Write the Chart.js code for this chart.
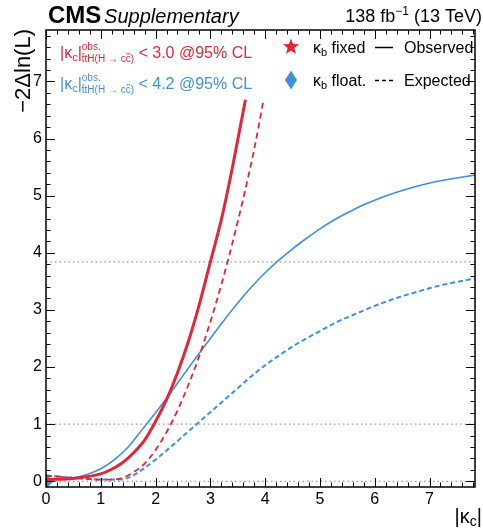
<!DOCTYPE html>
<html>
<head>
<meta charset="utf-8">
<script src="https://cdn.jsdelivr.net/npm/chart.js@4"></script>
<style>
  html, body { margin: 0; padding: 0; background: #fff; }
  canvas { display: block; }
</style>
</head>
<body>
<canvas id="scan" width="483" height="531"></canvas>
<script>
// likelihood scan values, -2 Delta ln L versus |kappa_c|
const fixedObsK   = [0, 0.5, 1.0, 1.2, 1.4, 1.6, 1.8, 2.0, 2.2, 2.4, 2.6, 2.8, 3.0, 3.2, 3.4, 3.64];
const fixedObsNll = [0.03, 0.05, 0.13, 0.21, 0.33, 0.5, 0.72, 1.05, 1.43, 1.9, 2.45, 3.1, 3.84, 4.58, 5.48, 6.68];

const fixedExpK   = [0, 0.5, 1.0, 1.2, 1.4, 1.6, 1.8, 2.0, 2.2, 2.4, 2.6, 2.8, 3.0, 3.2, 3.4, 3.6, 3.8, 3.97];
const fixedExpNll = [0.1, 0.06, 0.03, 0.03, 0.06, 0.16, 0.31, 0.55, 0.86, 1.24, 1.69, 2.2, 2.79, 3.44, 4.16, 4.95, 5.81, 6.68];

const floatObsK   = [0, 0.25, 0.5, 0.75, 1.0, 1.25, 1.5, 1.75, 2.0, 2.25, 2.5, 2.75, 3.0, 3.25, 3.5, 3.75, 4.0, 4.25, 4.5, 4.75, 5.0, 5.25, 5.5, 5.75, 6.0, 6.25, 6.5, 6.75, 7.0, 7.25, 7.5, 7.83];
const floatObsNll = [0.03, 0.04, 0.06, 0.12, 0.22, 0.38, 0.6, 0.9, 1.2, 1.52, 1.85, 2.18, 2.5, 2.82, 3.12, 3.4, 3.65, 3.87, 4.07, 4.25, 4.42, 4.57, 4.7, 4.82, 4.92, 5.01, 5.09, 5.16, 5.22, 5.27, 5.31, 5.36];

const floatExpK   = [0, 0.5, 1.0, 1.25, 1.5, 1.75, 2.0, 2.25, 2.5, 2.75, 3.0, 3.25, 3.5, 3.75, 4.0, 4.25, 4.5, 4.75, 5.0, 5.25, 5.5, 5.75, 6.0, 6.25, 6.5, 6.75, 7.0, 7.25, 7.5, 7.83];
const floatExpNll = [0.1, 0.06, 0.03, 0.03, 0.06, 0.2, 0.38, 0.58, 0.79, 1.0, 1.21, 1.42, 1.63, 1.84, 2.03, 2.2, 2.36, 2.5, 2.63, 2.76, 2.87, 2.97, 3.07, 3.16, 3.24, 3.31, 3.38, 3.44, 3.49, 3.55];

// 68% / 95% reference levels (and zero)
const refLevels = [0, 1, 3.84];

const xTicks = [0, 1, 2, 3, 4, 5, 6, 7];
const yTicks = [0, 1, 2, 3, 4, 5, 6, 7];
const X_MIN = 0, X_MAX = 7.83;
const Y_MIN = -0.1, Y_MAX = 7.9;

const RED = "#e42536";
const BLUE = "#3f90da";
const FONT = "'Liberation Sans', Arial, Helvetica, sans-serif";

const pts = (xs, ys) => xs.map((x, i) => ({ x, y: ys[i] }));

const curve = (xs, ys, color, width, dash) => ({
    data: pts(xs, ys),
    showLine: true,
    borderColor: color,
    borderWidth: width,
    borderDash: dash,
    pointRadius: 0,
    cubicInterpolationMode: "monotone",
    clip: 0
});

const datasets = [
    curve(fixedObsK, fixedObsNll, RED, 3, []),
    curve(fixedExpK, fixedExpNll, RED, 1.8, [6, 4]),
    curve(floatObsK, floatObsNll, BLUE, 1.6, []),
    curve(floatExpK, floatExpNll, BLUE, 2, [5, 3]),
    {
        // best fit point
        data: [{ x: 0, y: 0 }],
        pointStyle: "rectRot",
        pointRadius: 7,
        backgroundColor: BLUE,
        borderColor: BLUE,
        clip: 0
    }
];

refLevels.forEach(v => {
    datasets.push({
        data: [{ x: X_MIN, y: v }, { x: X_MAX, y: v }],
        showLine: true,
        borderColor: "#9a9a9a",
        borderWidth: 1.2,
        borderDash: [1.5, 3],
        pointRadius: 0
    });
});

// rich text: runs of {t, size, dy} or stacked {sup, sub, size}
function drawRuns(ctx, x, y, runs, color) {
    ctx.fillStyle = color;
    ctx.strokeStyle = color;
    ctx.textAlign = "left";
    ctx.textBaseline = "alphabetic";
    runs.forEach(r => {
        if (r.sup !== undefined) {
            ctx.font = `${r.size}px ${FONT}`;
            const w1 = ctx.measureText(r.sup).width;
            const w2 = ctx.measureText(r.sub).width;
            ctx.fillText(r.sup, x, y + r.supDy);
            ctx.fillText(r.sub, x, y + r.subDy);
            (r.bars || []).forEach(i => {
                const bx = x + ctx.measureText(r.sub.slice(0, i)).width;
                const bw = ctx.measureText(r.sub[i]).width;
                ctx.lineWidth = 0.9;
                ctx.beginPath();
                ctx.moveTo(bx + 0.5, y + r.subDy - r.size * 0.82);
                ctx.lineTo(bx + bw - 0.3, y + r.subDy - r.size * 0.82);
                ctx.stroke();
            });
            x += Math.max(w1, w2);
        } else {
            ctx.font = `${r.italic ? "italic " : ""}${r.bold ? "bold " : ""}${r.size}px ${FONT}`;
            ctx.fillText(r.t, x, y + (r.dy || 0));
            x += ctx.measureText(r.t).width;
        }
    });
    return x;
}

function runsWidth(ctx, runs) {
    let w = 0;
    runs.forEach(r => {
        ctx.font = `${r.size}px ${FONT}`;
        w += ctx.measureText(r.t).width;
    });
    return w;
}

const limitLabel = (value) => [
    { t: "|κ", size: 16 },
    { t: "c", size: 11, dy: 3 },
    { t: "|", size: 16 },
    { sup: "obs.", sub: "ttH(H → cc)", size: 10, supDy: -8, subDy: 4, bars: [0, 9] },
    { t: ` < ${value} @95% CL`, size: 16 }
];

function star(ctx, cx, cy, r) {
    ctx.beginPath();
    for (let i = 0; i < 10; i++) {
        const rad = i % 2 === 0 ? r : r * 0.42;
        const a = -Math.PI / 2 + i * Math.PI / 5;
        ctx.lineTo(cx + rad * Math.cos(a), cy + rad * Math.sin(a));
    }
    ctx.closePath();
    ctx.fill();
}

function diamond(ctx, cx, cy, hw, hh) {
    ctx.beginPath();
    ctx.moveTo(cx, cy - hh);
    ctx.lineTo(cx + hw, cy);
    ctx.lineTo(cx, cy + hh);
    ctx.lineTo(cx - hw, cy);
    ctx.closePath();
    ctx.fill();
}

const decorations = {
    id: "decorations",
    afterDatasetsDraw(chart) {
        const ctx = chart.ctx;
        const a = chart.chartArea;
        const xs = chart.scales.x, ys = chart.scales.y;
        ctx.save();

        // inward ticks on all four sides
        ctx.strokeStyle = "#000";
        ctx.lineWidth = 1;
        ctx.beginPath();
        for (let i = 0; i * 0.2 <= X_MAX + 1e-6; i++) {
            const px = Math.round(xs.getPixelForValue(i * 0.2)) + 0.5;
            const len = i % 5 === 0 ? 9 : 4.5;
            ctx.moveTo(px, a.bottom); ctx.lineTo(px, a.bottom - len);
            ctx.moveTo(px, a.top); ctx.lineTo(px, a.top + len);
        }
        for (let i = 0; i * 0.2 <= Y_MAX + 1e-6; i++) {
            const py = Math.round(ys.getPixelForValue(i * 0.2)) + 0.5;
            const len = i % 5 === 0 ? 9 : 4.5;
            ctx.moveTo(a.left, py); ctx.lineTo(a.left + len, py);
            ctx.moveTo(a.right, py); ctx.lineTo(a.right - len, py);
        }
        ctx.stroke();

        // frame
        ctx.lineWidth = 1.5;
        ctx.strokeRect(a.left, a.top, a.right - a.left, a.bottom - a.top);

        // header
        drawRuns(ctx, 48, 23, [
            { t: "CMS", size: 24, bold: true },
            { t: " ", size: 10 },
            { t: "Supplementary", size: 20, italic: true }
        ], "#000");
        const lumi = [
            { t: "138 fb", size: 18 },
            { t: "−1", size: 12, dy: -7 },
            { t: " (13 TeV)", size: 18 }
        ];
        drawRuns(ctx, 482 - runsWidth(ctx, lumi), 22, lumi, "#000");

        // axis titles
        ctx.save();
        ctx.translate(30, 29);
        ctx.rotate(-Math.PI / 2);
        ctx.font = `22px ${FONT}`;
        ctx.fillStyle = "#000";
        ctx.textAlign = "right";
        ctx.textBaseline = "alphabetic";
        ctx.fillText("−2Δln(L)", 0, 0);
        ctx.restore();

        const xTitle = [
            { t: "|κ", size: 20 },
            { t: "c", size: 14, dy: 3 },
            { t: "|", size: 20 }
        ];
        drawRuns(ctx, 482 - runsWidth(ctx, xTitle), 523, xTitle, "#000");

        // limit labels
        drawRuns(ctx, 60, 58, limitLabel("3.0"), RED);
        drawRuns(ctx, 60, 89, limitLabel("4.2"), BLUE);

        // legend
        ctx.fillStyle = RED;
        star(ctx, 291, 47, 8.5);
        ctx.fillStyle = BLUE;
        diamond(ctx, 291, 80, 6, 9.5);

        drawRuns(ctx, 313, 53, [
            { t: "κ", size: 16 }, { t: "b", size: 11, dy: 3 }, { t: " fixed", size: 16 }
        ], "#000");
        drawRuns(ctx, 313, 86, [
            { t: "κ", size: 16 }, { t: "b", size: 11, dy: 3 }, { t: " float.", size: 16 }
        ], "#000");

        ctx.strokeStyle = "#000";
        ctx.lineWidth = 1.5;
        ctx.setLineDash([]);
        ctx.beginPath(); ctx.moveTo(375, 47.5); ctx.lineTo(393, 47.5); ctx.stroke();
        ctx.setLineDash([4, 3]);
        ctx.beginPath(); ctx.moveTo(375, 80.5); ctx.lineTo(395, 80.5); ctx.stroke();
        ctx.setLineDash([]);

        ctx.font = `16px ${FONT}`;
        ctx.fillStyle = "#000";
        ctx.fillText("Observed", 404, 53);
        ctx.fillText("Expected", 404, 86);

        ctx.restore();
    }
};

new Chart(document.getElementById("scan"), {
    type: "scatter",
    data: { datasets },
    options: {
        responsive: false,
        animation: false,
        layout: { padding: { top: 30, right: 2, left: 0, bottom: 0 } },
        plugins: { legend: { display: false }, tooltip: { enabled: false } },
        scales: {
            x: {
                type: "linear",
                min: X_MIN,
                max: X_MAX,
                afterBuildTicks: (s) => { s.ticks = xTicks.map(v => ({ value: v })); },
                afterFit: (s) => { s.height = 44; },
                grid: { display: false, drawTicks: false },
                border: { display: false },
                ticks: { color: "#000", padding: 3, font: { family: FONT, size: 16 } }
            },
            y: {
                type: "linear",
                min: Y_MIN,
                max: Y_MAX,
                afterBuildTicks: (s) => { s.ticks = yTicks.map(v => ({ value: v })); },
                afterFit: (s) => { s.width = 46; },
                grid: { display: false, drawTicks: false },
                border: { display: false },
                ticks: { color: "#000", padding: 4, font: { family: FONT, size: 16 } }
            }
        }
    },
    plugins: [decorations]
});
</script>
</body>
</html>
